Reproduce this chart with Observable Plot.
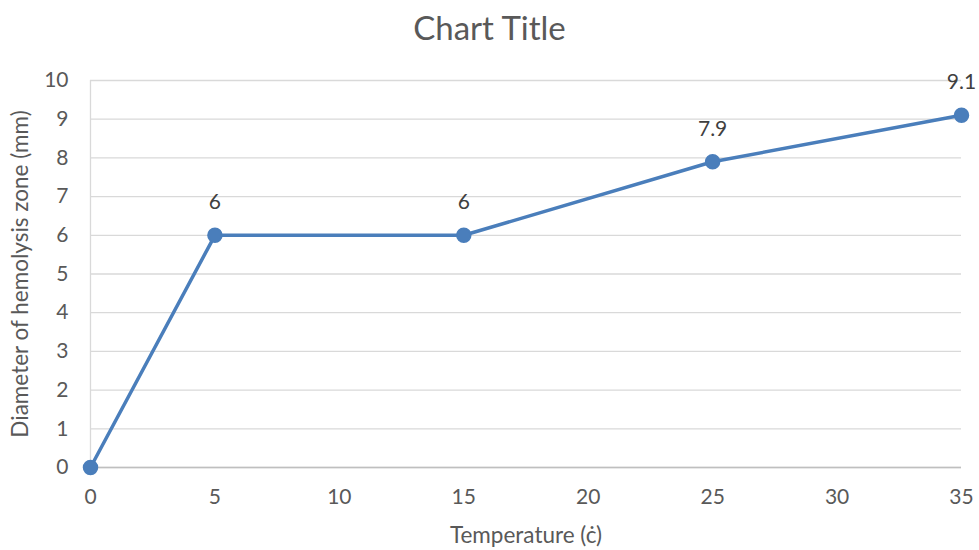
<!DOCTYPE html>
<html>
<head>
<meta charset="utf-8">
<script src="https://cdn.jsdelivr.net/npm/d3@7"></script>
<script src="https://cdn.jsdelivr.net/npm/@observablehq/plot@0.6"></script>
<style>
  html, body { margin: 0; padding: 0; background: #fff; }
  #wrap { width: 979px; height: 550px; position: relative; font-family: Lato, "Open Sans", sans-serif; }
  #title { height: 55px; line-height: 55px; text-align: center; font-size: 33px; color: #595959; }
</style>
</head>
<body>
<div id="wrap">
  <div id="title">Chart Title</div>
  <div id="chart"></div>
</div>
<script>
// Hemolysis zone diameter measured at each incubation temperature
const temperatures = [0, 5, 15, 25, 35];
const diameters = [0, 6, 6, 7.9, 9.1];
const xTicks = [0, 5, 10, 15, 20, 25, 30, 35];
const yTicks = [0, 1, 2, 3, 4, 5, 6, 7, 8, 9, 10];

const rows = temperatures.map((t, i) => ({t, d: diameters[i]}));
const labelled = rows.filter(r => r.t > 0);

const grey = "#595959";
const blue = "#4a7ebb";

const chart = Plot.plot({
  width: 979,
  height: 495,
  marginTop: 25,
  marginBottom: 83,
  marginLeft: 90,
  marginRight: 18,
  style: {fontFamily: "Lato, 'Open Sans', sans-serif", fontSize: "21px", color: grey, background: "transparent", overflow: "visible"},
  x: {domain: [0, 35], ticks: xTicks, label: null},
  y: {domain: [0, 10], ticks: yTicks, label: null},
  marks: [
    Plot.gridY(yTicks, {stroke: "#d9d9d9", strokeOpacity: 1, strokeWidth: 1.3}),
    Plot.ruleX([0], {y1: 0, y2: 10, stroke: "#d9d9d9", strokeWidth: 1.3}),
    Plot.ruleY([0], {stroke: "#bfbfbf", strokeWidth: 1.5}),
    Plot.axisY(yTicks, {tickSize: 0, tickPadding: 22, fill: grey, fontSize: 21, label: null}),
    Plot.axisX(xTicks, {tickSize: 0, tickPadding: 22, fill: grey, fontSize: 21, label: null}),
    Plot.text(["Diameter of hemolysis zone (mm)"], {frameAnchor: "left", textAnchor: "middle", rotate: -90, dx: -70, fill: grey, fontSize: 22.5}),
    Plot.text(["Temperature (ċ)"], {frameAnchor: "bottom", textAnchor: "middle", dy: 75, fill: grey, fontSize: 22.5}),
    Plot.line(rows, {x: "t", y: "d", stroke: blue, strokeWidth: 3.5}),
    Plot.dot(rows, {x: "t", y: "d", r: 7, fill: blue, stroke: blue}),
    Plot.text(labelled, {x: "t", y: "d", text: d => String(d.d), dy: -33, fill: "#404040", fontSize: 21})
  ]
});
document.getElementById("chart").appendChild(chart);
</script>
</body>
</html>
